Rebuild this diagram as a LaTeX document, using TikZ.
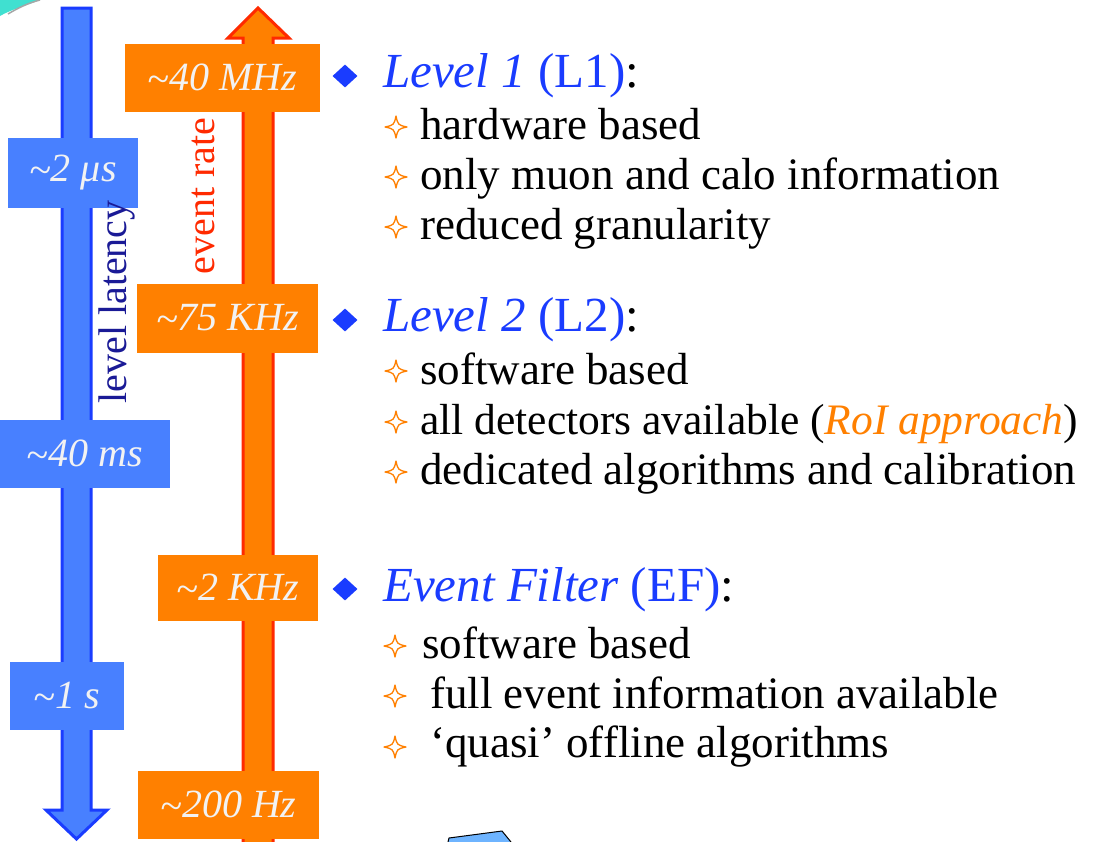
\documentclass[tikz,border=0pt]{standalone}
\usepackage{fontspec}
\setmainfont{Liberation Serif}
\usetikzlibrary{shapes.geometric}
\definecolor{latblue}{RGB}{72,128,255}
\definecolor{latedge}{RGB}{26,60,255}
\definecolor{rateorange}{RGB}{255,128,0}
\definecolor{rateedge}{RGB}{255,42,0}
\definecolor{headblue}{RGB}{26,60,255}
\definecolor{labelblue}{RGB}{26,26,150}
\definecolor{boxtext}{RGB}{242,242,242}
\definecolor{cornerteal}{RGB}{64,224,208}
\begin{document}
\begin{tikzpicture}[x=1pt,y=-1pt,
  bluebox/.style={fill=latblue,inner sep=0pt,text=boxtext,font=\fontsize{40}{44}\selectfont\itshape},
  orangebox/.style={fill=rateorange,inner sep=0pt,text=boxtext,font=\fontsize{40}{44}\selectfont\itshape},
  heading/.style={anchor=base west,inner sep=0pt,font=\fontsize{49}{56}\selectfont},
  item/.style={anchor=base west,inner sep=0pt,font=\fontsize{45}{52}\selectfont},
  axislabel/.style={rotate=90,inner sep=0pt,font=\fontsize{40}{44}\selectfont},
  bulletdia/.style={diamond,fill=headblue,inner sep=0pt,minimum width=25pt,minimum height=23pt},
  fourstar/.pic={\draw[rateorange,line width=1.3pt,line join=round]
     (0,-11) .. controls (2,-2) .. (11,0) .. controls (2,2) .. (0,11)
     .. controls (-2,2) .. (-11,0) .. controls (-2,-2) .. cycle;}]
\useasboundingbox (0,0) rectangle (1095,841);
\fill[white] (0,0) rectangle (1095,841);

% corner ornaments
\fill[cornerteal] (0,0) -- (40,0) .. controls (25,6) and (10,10) .. (0,16) -- cycle;
\draw[gray!70,line width=1.5pt] (8,14) .. controls (18,8) and (28,3) .. (40,0);
\draw[black,line width=1pt,fill={rgb,255:red,110;green,180;blue,255}]
  (448,842) -- (449,838) -- (502,831) -- (511,842);

% latency arrow (downwards)
\draw[latedge,line width=3pt,fill=latblue,line join=miter]
  (62,8) -- (91,8) -- (91,810) -- (107,810) -- (76.5,839) -- (46,810) -- (62,810) -- cycle;
% rate arrow (upwards)
\draw[rateedge,line width=3pt,fill=rateorange,line join=miter]
  (243,850) -- (243,38) -- (228,38) -- (258,8) -- (289,38) -- (273,38) -- (273,850) -- cycle;

% latency values
\node[bluebox,minimum width=130pt,minimum height=70pt] (t1) at (73,173) {\raisebox{-2pt}{\textasciitilde}2 μs};
\node[bluebox,minimum width=170pt,minimum height=68pt] (t2) at (85,454) {\raisebox{-2pt}{\textasciitilde}40 ms};
\node[bluebox,minimum width=114pt,minimum height=68pt] (t3) at (67,696) {\raisebox{-2pt}{\textasciitilde}1 s};

% rate values
\node[orangebox,minimum width=195pt,minimum height=68pt] (r1) at (222.5,78) {\raisebox{-2pt}{\textasciitilde}40 MHz};
\node[orangebox,minimum width=181pt,minimum height=69pt] (r2) at (227.5,318) {\raisebox{-2pt}{\textasciitilde}75 KHz};
\node[orangebox,minimum width=160pt,minimum height=66pt] (r3) at (238,588) {\raisebox{-2pt}{\textasciitilde}2 KHz};
\node[orangebox,minimum width=181pt,minimum height=68pt] (r4) at (228.5,805) {\raisebox{-2pt}{\textasciitilde}200 Hz};

% axis captions
\node[axislabel,text=labelblue] (lat) at (117,302) {level latency};
\node[axislabel,text=rateedge] (rate) at (203,196) {event rate};

% Level 1
\node[bulletdia] (d1) at (345,76) {};
\node[heading] (h1) at (383,87) {\textcolor{headblue}{\textit{Level 1} (L1)}:};
\pic at (396,127) {fourstar};
\node[item] (h1a) at (420,139) {hardware based};
\pic at (396,177) {fourstar};
\node[item] (h1b) at (420,189) {only muon and calo information};
\pic at (396,227) {fourstar};
\node[item] (h1c) at (420,239) {reduced granularity};

% Level 2
\node[bulletdia] (d2) at (345,320) {};
\node[heading] (h2) at (383,331) {\textcolor{headblue}{\textit{Level 2} (L2)}:};
\pic at (396,371) {fourstar};
\node[item] (h2a) at (420,384) {software based};
\pic at (396,422) {fourstar};
\node[item,font=\fontsize{43.5}{52}\selectfont] (h2b) at (420,434) {all detectors available (\textcolor{rateorange}{\textit{RoI approach}})};
\pic at (396,472) {fourstar};
\node[item] (h2c) at (420,484) {dedicated algorithms and calibration};

% Event Filter
\node[bulletdia] (d3) at (345,589) {};
\node[heading] (h3) at (383,601) {\textcolor{headblue}{\textit{Event Filter} (EF)}:};
\pic at (395,646) {fourstar};
\node[item] (h3a) at (422,658) {software based};
\pic at (395,696) {fourstar};
\node[item] (h3b) at (430,708) {full event information available};
\pic at (395,747) {fourstar};
\node[item] (h3c) at (430,757) {‘quasi’ offline algorithms};
\end{tikzpicture}
\end{document}
